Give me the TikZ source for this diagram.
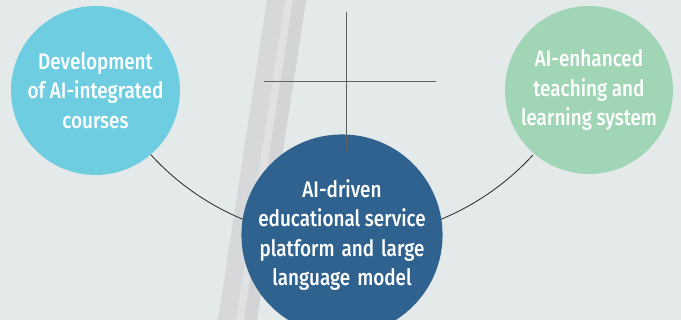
\documentclass[tikz,border=0pt]{standalone}
\usepackage{fontspec}
\setmainfont[FakeStretch=0.84]{Fira Sans Medium}
\definecolor{bgc}{HTML}{E4E9EA}
\definecolor{barA}{HTML}{D6D8DA}
\definecolor{barB}{HTML}{DFE1E2}
\definecolor{barC}{HTML}{D2D4D6}
\definecolor{cyanc}{HTML}{6ECDE0}
\definecolor{greenc}{HTML}{A0D5B5}
\definecolor{bluec}{HTML}{2F628E}
\definecolor{crossc}{HTML}{5F6264}
\tikzset{
  bubble/.style={circle, inner sep=0pt, text=white, align=center,
    font=\fontsize{22.5}{29.5}\selectfont},
  crossline/.style={draw=crossc, line width=0.9pt},
  arcline/.style={draw=black!85, line width=0.8pt}
}
\begin{document}
\begin{tikzpicture}[x=1pt,y=1pt]
\useasboundingbox (0,0) rectangle (681,320);
\fill[bgc] (0,0) rectangle (681,320);
% diagonal bar
\fill[barA] (218,0) -- (257,0) -- (306,320) -- (267,320) -- cycle;
\fill[barB] (236,0) -- (244,0) -- (293,320) -- (285,320) -- cycle;
\fill[barC] (244,0) -- (257,0) -- (306,320) -- (293,320) -- cycle;
% arc centre
\coordinate (arcc) at (342,340);
\draw[arcline] (arcc) ++(222.3:259) arc[start angle=222.3, end angle=317.5, radius=259];
% bubbles
\node[bubble, fill=cyanc, minimum size=169pt] (L) at (95.5,229.5)
  {Development\\of AI-integrated\\courses};
\node[bubble, fill=greenc, minimum size=168pt] (R) at (589,230)
  {AI-enhanced\\teaching and\\learning system};
\node[bubble, fill=bluec, minimum size=169pt] (C) at (342,85)
  {AI-driven\\educational service\\platform\hspace{0.1em} and\hspace{0.1em} large\\language\hspace{0.1em} model};
% cross
\coordinate (vtop) at (346.5,308.3);
\coordinate (vbot) at (346.5,169);
\coordinate (hl) at (264,238.3);
\coordinate (hr) at (435.5,238.3);
\draw[crossline] (vtop) -- (vbot);
\draw[crossline] (hl) -- (hr);
\end{tikzpicture}
\end{document}
